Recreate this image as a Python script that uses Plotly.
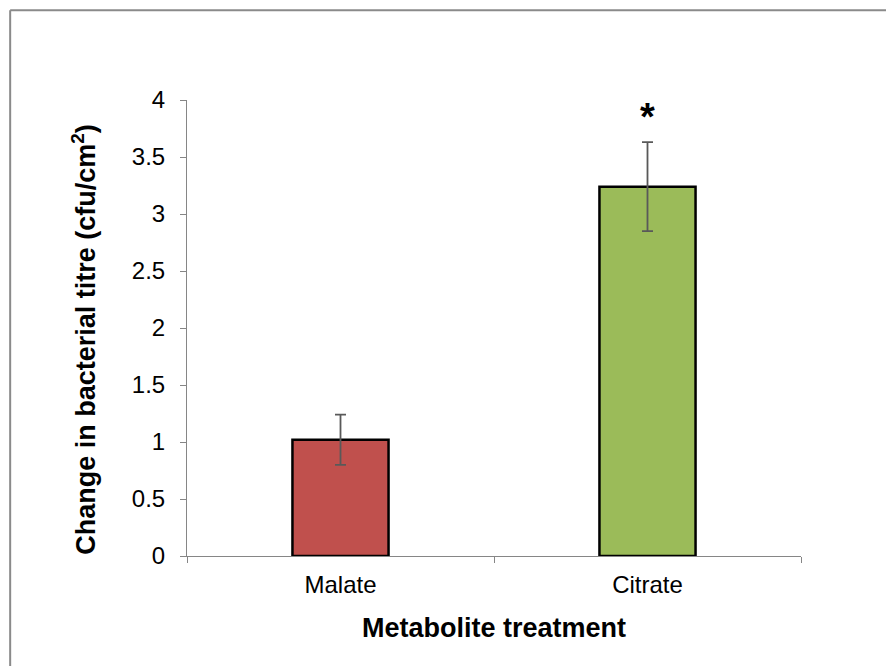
import plotly.graph_objects as go

categories = ["Malate", "Citrate"]
values = [1.02, 3.24]
errors = [0.22, 0.39]
bar_colors = ["#C0504D", "#9BBB59"]
significance = ["", "*"]

fig = go.Figure()
fig.add_trace(go.Bar(
    x=categories, y=values,
    width=0.313,
    marker=dict(color=bar_colors, line=dict(color="black", width=2.5)),
    error_y=dict(type="data", array=errors, visible=True,
                 color="#595959", thickness=1.8, width=5.5),
    showlegend=False,
))

for c, v, e, s in zip(categories, values, errors, significance):
    if s:
        fig.add_annotation(x=c, y=v + e, text="<b>" + s + "</b>", showarrow=False,
                           yanchor="bottom", yshift=2,
                           font=dict(family="Liberation Sans, Arial", size=38, color="black"))

# y-axis title placed as an annotation for exact positioning
fig.add_annotation(xref="paper", yref="paper", x=-0.168, y=0.476,
                   text="<b>Change in bacterial titre (cfu/cm<sup>2</sup>)</b>",
                   textangle=-90, showarrow=False, xanchor="center", yanchor="middle",
                   font=dict(family="Liberation Sans, Arial", size=27, color="black"))

# outer frame (top and left edges visible)
fig.add_shape(type="line", xref="paper", yref="paper", x0=-0.288, x1=1.2, y0=1.197, y1=1.197,
              line=dict(color="#8a8a8a", width=2))
fig.add_shape(type="line", xref="paper", yref="paper", x0=-0.288, x1=-0.288, y0=-0.3, y1=1.197,
              line=dict(color="#8a8a8a", width=2))

fig.update_layout(
    width=886, height=666,
    margin=dict(l=187, r=85, t=100, b=110),
    paper_bgcolor="white", plot_bgcolor="white",
    font=dict(family="Liberation Sans, Arial", size=24, color="black"),
    xaxis=dict(
        range=[-0.5, 1.5], tickson="boundaries",
        showline=True, linecolor="#868686", linewidth=1,
        ticks="outside", ticklen=6, tickcolor="#868686",
        showgrid=False, zeroline=False,
        tickfont=dict(size=24), ticklabelstandoff=7,
        title=dict(text="<b>Metabolite treatment</b>", font=dict(size=27), standoff=21),
    ),
    yaxis=dict(
        range=[0, 4], dtick=0.5,
        showline=True, linecolor="#868686", linewidth=1,
        ticks="outside", ticklen=6, tickcolor="#868686",
        showgrid=False, zeroline=False,
        tickfont=dict(size=24), ticklabelstandoff=10,
    ),
)

fig.write_html("out.html")
